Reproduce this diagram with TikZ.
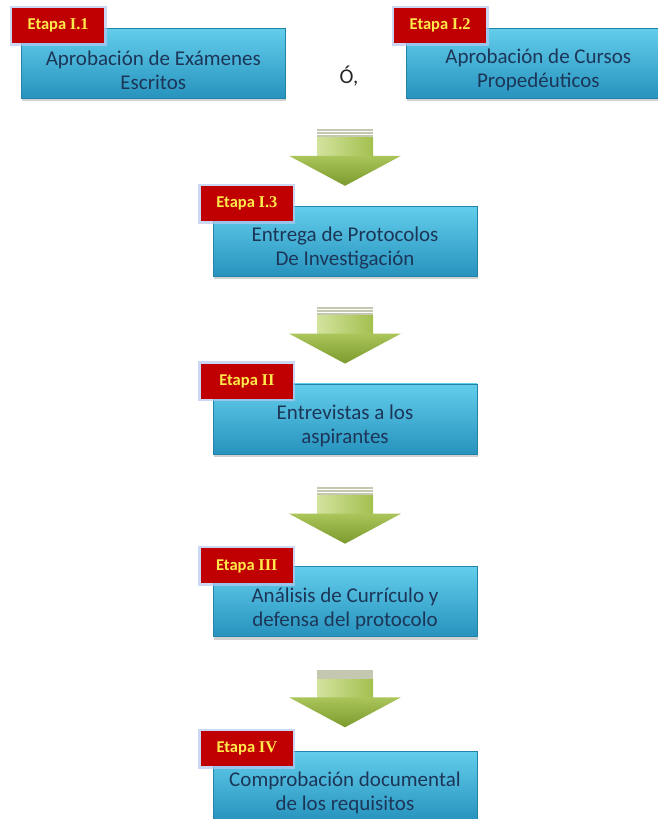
\documentclass[tikz,border=0pt]{standalone}
\usepackage{fontspec}
\setmainfont{Carlito}
\newfontfamily\romfont{Liberation Serif}
\usetikzlibrary{positioning,calc,shadows}

\definecolor{cajatop}{HTML}{63CDEB}
\definecolor{cajamid}{HTML}{3AB2DA}
\definecolor{cajabot}{HTML}{2793BE}
\definecolor{cajaborde}{HTML}{2282A8}
\definecolor{azultexto}{HTML}{1C3658}
\definecolor{rojoetapa}{HTML}{C00000}
\definecolor{amarillo}{HTML}{FFE94A}
\definecolor{halo}{HTML}{B4C8F0}
\definecolor{verdeclaro}{HTML}{D3E39E}
\definecolor{verde}{HTML}{A3C04E}
\definecolor{verdeosc}{HTML}{7C9A2E}
\definecolor{raya}{HTML}{C4C8B0}

% flecha verde entre dos cajas
\newcommand{\flecha}[2]{%
  \begin{scope}[shift={($(#1.south)!0.5!(#2.north)+(0,5)$)}]
    \foreach \k in {0,1,2}
      \fill[raya] (-28,-28.5+\k*3) rectangle (28,-26.3+\k*3);
    \shade[left color=verdeclaro, right color=verde] (-28,-19.5) rectangle (28,-1.5);
    \shade[top color=verde!85!verdeclaro, bottom color=verdeosc] (-56,-1.5) -- (56,-1.5) -- (0,28.5) -- cycle;
  \end{scope}}

\begin{document}
\begin{tikzpicture}[x=1pt,y=-1pt,
  caja/.style={draw=cajaborde, line width=0.6pt, top color=cajatop, middle color=cajamid, bottom color=cajabot,
    minimum width=264pt, minimum height=70pt, inner sep=0pt,
    drop shadow={shadow xshift=1pt, shadow yshift=-3pt, opacity=0.35}},
  texto/.style={text=azultexto, align=center, font=\fontsize{21}{24}\selectfont},
  etiqueta/.style={fill=rojoetapa, text=amarillo, minimum width=92pt, minimum height=35pt, inner sep=0pt,
    font=\fontsize{16.5}{18}\selectfont\bfseries, preaction={draw=halo, line width=5pt, opacity=0.7}},
]
\fill[white] (0,0) rectangle (657,819);
\useasboundingbox (0,0) rectangle (657,819);

% Etapa I.1 y I.2
\node[caja, anchor=north west] (c1) at (21,28) {};
\node[texto] (t1) at ($(c1.center)+(0,7)$) {Aprobación de Exámenes\\Escritos};
\node[etiqueta, anchor=north west] (e1) at ($(c1.north west)+(-9,-20)$) {Etapa \romfont I.1};

\node[caja, anchor=north west] (c2) at (406,28) {};
\node[texto] (t2) at ($(c2.center)+(0,7)$) {Aprobación de Cursos\\Propedéuticos};
\node[etiqueta, anchor=north west] (e2) at ($(c2.north west)+(-12,-20)$) {Etapa \romfont I.2};

\node[texto, text=black!85] (o) at (349,76) {Ó,};

% Etapa I.3
\node[caja, anchor=north] (c3) at (345,206) {};
\node[texto] (t3) at ($(c3.center)+(0,7)$) {Entrega de Protocolos\\De Investigación};
\node[etiqueta, anchor=north west] (e3) at ($(c3.north west)+(-12,-20)$) {Etapa \romfont I.3};

% Etapa II
\node[caja, below=107pt of c3] (c4) {};
\node[texto] (t4) at ($(c4.center)+(0,7)$) {Entrevistas a los\\aspirantes};
\node[etiqueta, anchor=north west] (e4) at ($(c4.north west)+(-12,-20)$) {Etapa \romfont II};

% Etapa III
\node[caja, below=112pt of c4] (c5) {};
\node[texto] (t5) at ($(c5.center)+(0,7)$) {Análisis de Currículo y\\defensa del protocolo};
\node[etiqueta, anchor=north west] (e5) at ($(c5.north west)+(-12,-18)$) {Etapa \romfont III};

% Etapa IV
\node[caja, below=114pt of c5] (c6) {};
\node[texto] (t6) at ($(c6.center)+(0,7)$) {Comprobación documental\\de los requisitos};
\node[etiqueta, anchor=north west] (e6) at ($(c6.north west)+(-12,-20)$) {Etapa \romfont IV};

% Flechas
\flecha{c1.south -| c3}{c3}
\flecha{c3}{c4}
\flecha{c4}{c5}
\flecha{c5}{c6}
\end{tikzpicture}
\end{document}
